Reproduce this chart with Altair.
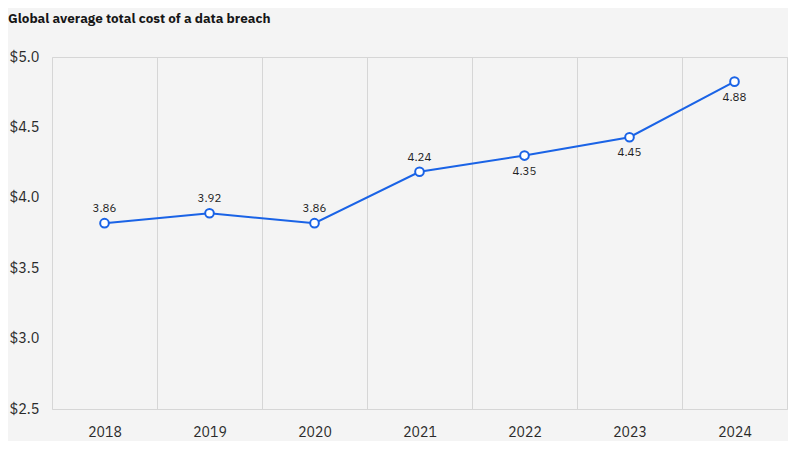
import altair as alt
import pandas as pd

years = ["2018", "2019", "2020", "2021", "2022", "2023", "2024"]
plotted = [3.82, 3.89, 3.82, 4.185, 4.30, 4.43, 4.825]
labels = ["3.86", "3.92", "3.86", "4.24", "4.35", "4.45", "4.88"]
label_pos = ["above", "above", "above", "above", "below", "below", "below"]

df = pd.DataFrame({"year": years, "value": plotted, "label": labels, "pos": label_pos})

FONT = "IBM Plex Sans, Noto Sans"
BLUE = "#1a63e6"

x = alt.X("year:N", title=None, sort=years,
          scale=alt.Scale(paddingInner=0, paddingOuter=0),
          axis=alt.Axis(grid=True, tickBand="extent", ticks=False, domain=False,
                        labelAngle=0, labelFontSize=14, labelColor="#2a2a2a",
                        labelFont=FONT, labelPadding=16, gridColor="#d6d6d6"))
y = alt.Y("value:Q", title=None,
          scale=alt.Scale(domain=[2.5, 5.0], nice=False, zero=False),
          axis=alt.Axis(values=[2.5, 3.0, 3.5, 4.0, 4.5, 5.0], grid=False, ticks=False,
                        domain=False, labelExpr="'$' + format(datum.value, '.1f')",
                        labelFontSize=14.5, labelColor="#2a2a2a", labelFont=FONT,
                        labelPadding=13))

base = alt.Chart(df)
line = base.mark_line(color=BLUE, strokeWidth=2).encode(x=x, y=y)
pts = base.mark_point(filled=True, fill="white", stroke=BLUE, strokeWidth=2,
                      size=75, opacity=1).encode(x=x, y=y)
above = base.transform_filter("datum.pos == 'above'").mark_text(
    dy=-14, fontSize=11.5, color="#222", font=FONT).encode(x=x, y=y, text="label:N")
below = base.transform_filter("datum.pos == 'below'").mark_text(
    dy=16, fontSize=11.5, color="#222", font=FONT).encode(x=x, y=y, text="label:N")

chart = alt.layer(line, pts, above, below).properties(
    width=735, height=352,
    autosize=alt.AutoSizeParams(type="none"),
    padding={"left": 44, "top": 49, "right": 1, "bottom": 32},
    background="#f4f4f4",
    title=alt.TitleParams("Global average total cost of a data breach", anchor="start",
                          frame="group", dx=-44, offset=24, fontSize=13.5,
                          fontWeight="bold", font=FONT, color="#161616"),
).configure_view(stroke="#d6d6d6", strokeWidth=1)

chart.save("out.html", embed_options={"renderer": "svg", "actions": False})
